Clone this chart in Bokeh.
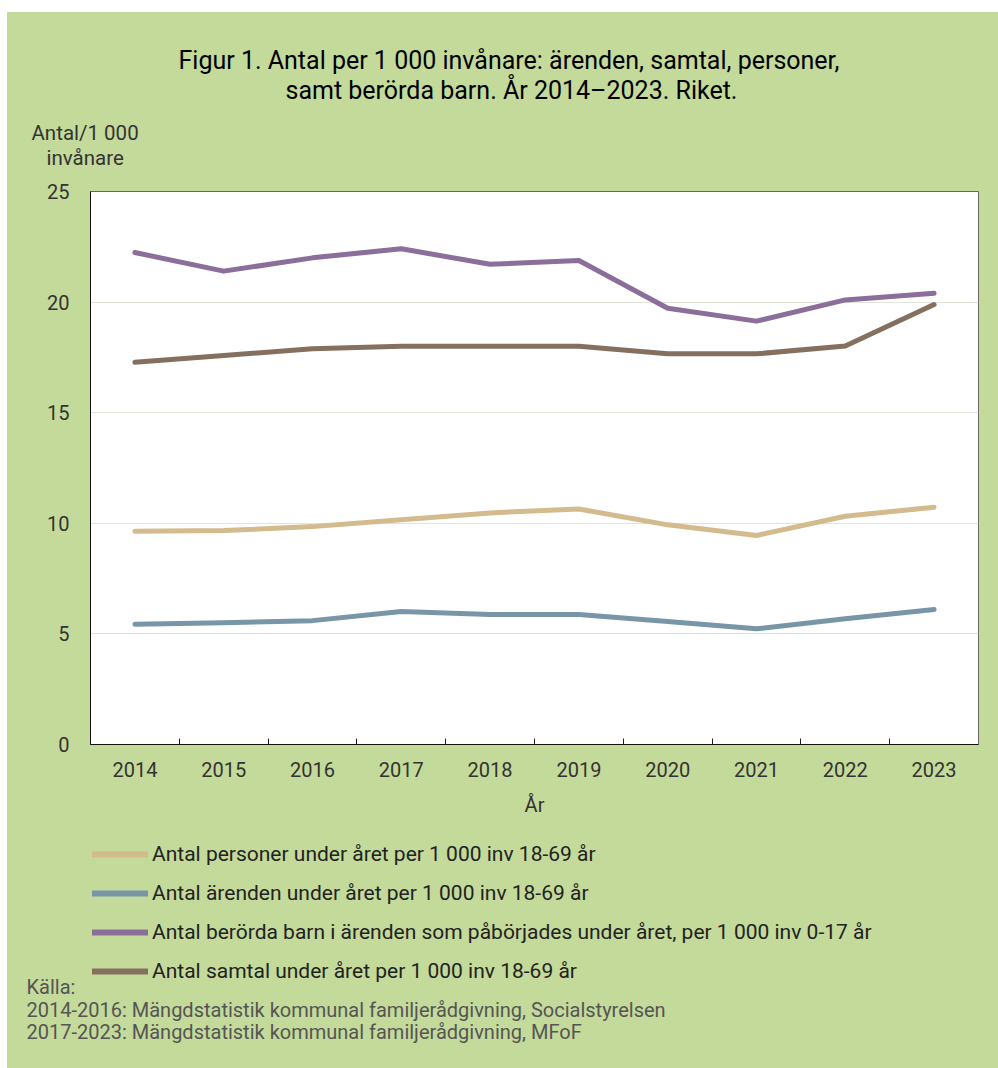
from bokeh.plotting import figure
from bokeh.models import FixedTicker, Range1d, Spacer, Title
from bokeh.layouts import column, row
from bokeh.embed import file_html
from bokeh.resources import INLINE

years = [2014, 2015, 2016, 2017, 2018, 2019, 2020, 2021, 2022, 2023]
year_labels = ["2014", "2015", "2016", "2017", "2018", "2019", "2020", "2021", "2022", "2023"]
personer = [9.64, 9.67, 9.85, 10.16, 10.47, 10.65, 9.93, 9.45, 10.32, 10.73]
arenden = [5.44, 5.50, 5.60, 6.01, 5.88, 5.88, 5.56, 5.23, 5.68, 6.10]
barn = [22.24, 21.40, 22.00, 22.41, 21.71, 21.88, 19.72, 19.14, 20.10, 20.40]
samtal = [17.28, 17.59, 17.89, 18.00, 18.00, 18.00, 17.66, 17.66, 18.02, 19.89]
y_ticks = [0, 5, 10, 15, 20, 25]

series_names = [
    "Antal personer under året per 1 000 inv 18-69 år",
    "Antal ärenden under året per 1 000 inv 18-69 år",
    "Antal berörda barn i ärenden som påbörjades under året, per 1 000 inv 0-17 år",
    "Antal samtal under året per 1 000 inv 18-69 år",
]
series_values = [personer, arenden, barn, samtal]
series_colors = ["#D4BB8E", "#7896A8", "#8B6E9A", "#857060"]

title_lines = ["Figur 1. Antal per 1 000 invånare: ärenden, samtal, personer,",
               "samt berörda barn. År 2014–2023. Riket."]
ylabel_lines = ["Antal/1 000", "invånare"]
source_lines = ["Källa:",
                "2014-2016: Mängdstatistik kommunal familjerådgivning, Socialstyrelsen",
                "2017-2023: Mängdstatistik kommunal familjerådgivning, MFoF"]

FONT = "Roboto"
BG = "#C4DA9A"
OFF_X, OFF_Y = 7, 12
W = 991
SPLIT = 826                 # page y: chart -> legend figure
BOTTOM = 1068
FRAME_L, FRAME_T, FRAME_B = 90, 191, 744
H1 = SPLIT - OFF_Y
H2 = BOTTOM - SPLIT


def side_title(fig, text, place, size, color, offset, standoff):
    fig.add_layout(Title(text=text, align="left", offset=offset, standoff=standoff,
                         text_font=FONT, text_font_size=size, text_font_style="normal",
                         text_color=color), place)


def gap(fig, place, standoff):
    # invisible spacer between stacked header / footer texts
    fig.add_layout(Title(text="\u00a0", text_font_size="2px", standoff=standoff,
                         text_font_style="normal"), place)

# ---------------- main chart ----------------
p = figure(width=W, height=H1, output_backend="svg", toolbar_location=None,
           title_location=None,
           x_range=Range1d(2013.5, 2023.5), y_range=Range1d(0, 25),
           min_border_left=FRAME_L - OFF_X, min_border_right=20,
           min_border_top=FRAME_T - OFF_Y, min_border_bottom=SPLIT - FRAME_B,
           border_fill_color=BG, background_fill_color="white",
           outline_line_color="#666666", outline_line_width=1)

for vals, col in zip(series_values, series_colors):
    p.line(years, vals, line_color=col, line_width=5, line_cap="round", line_join="round")

p.xaxis.ticker = FixedTicker(ticks=years, minor_ticks=[y + 0.5 for y in years[:-1]])
p.xaxis.major_label_overrides = {y: l for y, l in zip(years, year_labels)}
p.xaxis.major_tick_line_color = None
p.xaxis.minor_tick_in = 6
p.xaxis.minor_tick_out = 0
p.xaxis.minor_tick_line_color = "#222222"
p.xaxis.axis_line_color = "#111111"
p.xaxis.major_label_text_font = FONT
p.xaxis.major_label_text_font_size = "20px"
p.xaxis.major_label_text_color = "#333333"
p.xaxis.major_label_standoff = 11
p.xaxis.axis_label = "År"
p.xaxis.axis_label_text_font = FONT
p.xaxis.axis_label_text_font_size = "20px"
p.xaxis.axis_label_text_font_style = "normal"
p.xaxis.axis_label_text_color = "#333333"
p.xaxis.axis_label_standoff = 13

p.yaxis.ticker = FixedTicker(ticks=y_ticks)
p.yaxis.major_tick_line_color = None
p.yaxis.minor_tick_line_color = None
p.yaxis.axis_line_color = "#111111"
p.yaxis.major_label_text_font = FONT
p.yaxis.major_label_text_font_size = "20px"
p.yaxis.major_label_text_color = "#333333"
p.yaxis.major_label_standoff = 15

p.xgrid.grid_line_color = None
p.ygrid.grid_line_color = "#E3E3DA"
p.ygrid.grid_line_width = 1

# header texts, stacked upward from the frame (first added = closest to frame)
gap(p, "above", 18)
side_title(p, ylabel_lines[1], "above", "20.5px", "#333333", 46 - FRAME_L, 0)
side_title(p, ylabel_lines[0], "above", "20.5px", "#333333", 31 - FRAME_L, -3)
gap(p, "above", 17)
side_title(p, title_lines[1], "above", "25px", "#000000", 285 - FRAME_L, -10)
side_title(p, title_lines[0], "above", "25px", "#000000", 178 - FRAME_L, 8)

# ---------------- legend + source ----------------
LEG_TOP, LEG_FRAME_B, LEG_H = 840, 984, 143
p2 = figure(width=W, height=H2, output_backend="svg", toolbar_location=None,
            title_location=None, x_axis_type=None, y_axis_type=None,
            x_range=Range1d(0, 1), y_range=Range1d(0, 1),
            min_border_left=FRAME_L - OFF_X, min_border_right=20,
            min_border_top=LEG_TOP - SPLIT, min_border_bottom=BOTTOM - LEG_FRAME_B,
            border_fill_color=BG, background_fill_color=BG, outline_line_color=None)
p2.grid.grid_line_color = None
# same series drawn off-range here, so that the legend has real glyphs
for name, vals, col in zip(series_names, series_values, series_colors):
    p2.line(years, vals, line_color=col, line_width=6, line_cap="round", legend_label=name)

lg = p2.legend[0]
lg.location = (92 - FRAME_L, (LEG_FRAME_B - LEG_TOP) - LEG_H)
lg.orientation = "vertical"
lg.background_fill_alpha = 0
lg.border_line_color = None
lg.glyph_width = 56
lg.glyph_height = 20
lg.label_height = 20
lg.spacing = 15
lg.label_standoff = 4
lg.padding = 0
lg.margin = 0
lg.label_text_font = FONT
lg.label_text_font_size = "21px"
lg.label_text_color = "#222222"

side_title(p2, source_lines[0], "below", "20px", "#555555", 26 - FRAME_L, -23)
side_title(p2, source_lines[1], "below", "20px", "#555555", 26 - FRAME_L, 16)
side_title(p2, source_lines[2], "below", "20px", "#555555", 26 - FRAME_L, -24)

inner = column(p, p2, styles={"background-color": BG})
layout = column(Spacer(height=OFF_Y, width=W + OFF_X),
                row(Spacer(width=OFF_X, height=H1 + H2), inner))
open("out.html", "w").write(file_html(layout, INLINE))
